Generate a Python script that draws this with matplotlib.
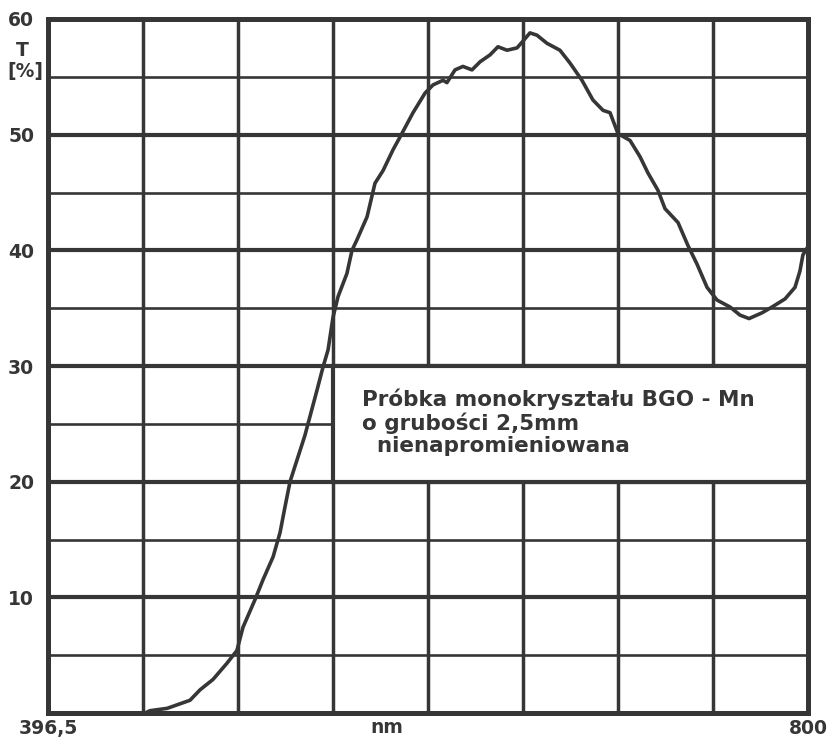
import matplotlib
matplotlib.use('Agg')
import numpy as np
import matplotlib.pyplot as plt
from matplotlib.patches import Rectangle

# transmission spectrum
wl = [448.0, 450.7, 459.7, 471.9, 477.2, 484.1, 491.5, 496.8, 500.0, 506.4,
      510.6, 516.0, 519.7, 522.3, 525.0, 532.9, 539.3, 542.5, 545.2, 547.8,
      550.5, 555.2, 557.9, 560.5, 565.9, 570.1, 574.4, 579.7, 583.4, 590.3,
      596.7, 600.9, 606.2, 608.3, 612.6, 616.8, 621.6, 625.9, 631.2, 635.4,
      640.2, 645.5, 648.2, 652.4, 656.1, 661.4, 668.3, 673.6, 680.0, 685.8,
      691.2, 694.9, 699.1, 705.5, 710.8, 715.0, 720.3, 724.1, 731.0, 736.3,
      741.1, 746.4, 751.7, 758.6, 763.9, 768.7, 775.6, 780.9, 787.8, 793.1,
      795.7, 797.3, 799.5]
T = [0.0, 0.2, 0.4, 1.1, 2.0, 2.9, 4.3, 5.4, 7.4, 9.8,
     11.5, 13.5, 15.6, 17.8, 20.0, 24.0, 27.9, 29.9, 31.4, 34.2,
     36.0, 38.0, 40.0, 40.9, 42.9, 45.8, 46.9, 48.7, 49.8, 51.9,
     53.6, 54.3, 54.7, 54.5, 55.6, 55.9, 55.6, 56.3, 56.9, 57.6,
     57.3, 57.5, 58.0, 58.8, 58.6, 57.9, 57.3, 56.2, 54.7, 53.0,
     52.1, 51.9, 50.1, 49.5, 48.1, 46.7, 45.2, 43.6, 42.4, 40.4,
     38.8, 36.8, 35.7, 35.1, 34.4, 34.1, 34.6, 35.1, 35.8, 36.8,
     38.2, 39.6, 40.2]

x_min, x_max = 396.5, 800.0
y_ticks = [10, 20, 30, 40, 50, 60]
x_labels = ['396,5', '', '', '', '', '', '', '', '800']
note = 'Próbka monokryształu BGO - Mn\no grubości 2,5mm\n  nienapromieniowana'

ink = '#363636'
plt.rcParams['font.family'] = ['DejaVu Sans']
plt.rcParams['font.weight'] = 'bold'

fig = plt.figure(figsize=(8.34, 7.37), dpi=100)
ax = fig.add_axes([48/834, 1-713/737, 760/834, 694/737])

xgrid = np.linspace(x_min, x_max, 9)

# grid drawn by hand (major/minor widths differ)
for xv in xgrid[1:-1]:
    ax.axvline(xv, color=ink, lw=2.5, zorder=1)
for yv in range(5, 60, 5):
    ax.axhline(yv, color=ink, lw=3.0 if yv % 10 == 0 else 1.9, zorder=1)

# white note box covering the grid cells
bx0 = xgrid[3]
ax.add_patch(Rectangle((bx0, 20), x_max - bx0, 10, facecolor='white',
                       edgecolor=ink, lw=3.0, zorder=2))
ax.text(x_min + (362-48)/760*(x_max-x_min), 28.05, note, fontsize=15.5,
        color=ink, va='top', ha='left', linespacing=1.13, zorder=3)

ax.plot(wl, T, color=ink, lw=2.6, zorder=4, solid_joinstyle='round')

ax.set_xlim(x_min, x_max)
ax.set_ylim(0, 60)
for s in ax.spines.values():
    s.set_linewidth(3.6)
    s.set_color(ink)
    s.set_zorder(5)

ax.set_xticks(xgrid)
ax.set_xticklabels(x_labels)
ax.set_yticks(y_ticks)
ax.set_yticklabels([str(v) for v in y_ticks])
ax.tick_params(length=0, labelsize=13.5, colors=ink, pad=4)
ax.tick_params(axis='y', pad=10)

ax.text(0.446, -0.021, 'nm', transform=ax.transAxes, fontsize=13.5, color=ink,
        ha='center', va='center')
fig.text(22/834, 1-51/737, 'T', fontsize=13.5, color=ink, ha='center', va='center')
fig.text(25/834, 1-71/737, '[%]', fontsize=13.5, color=ink, ha='center', va='center')

fig.savefig('out.png', dpi=100, facecolor='white')
